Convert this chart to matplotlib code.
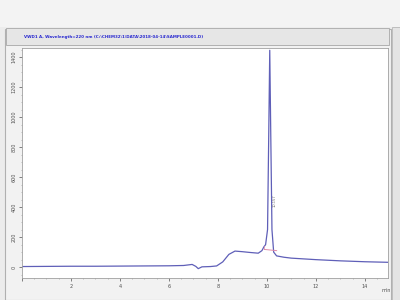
import matplotlib
matplotlib.use('Agg')
import matplotlib.pyplot as plt
from matplotlib.patches import Rectangle

# chromatogram trace (min, mAU)
time_min = [0, 1, 2, 3, 4, 5, 6, 6.6, 6.8, 6.95, 7.1, 7.2, 7.35, 7.7, 7.95, 8.2, 8.45, 8.7,
            9.0, 9.3, 9.65, 9.8, 9.88, 9.95, 10.03, 10.08, 10.12, 10.16, 10.21, 10.28,
            10.4, 10.7, 11, 12, 13, 14, 15]
signal = [4, 5, 6, 6, 7, 8, 9, 11, 15, 18, 5, -10, 2, 4, 8, 35, 85, 107,
          103, 98, 93, 110, 135, 150, 250, 900, 1445, 900, 250, 100,
          75, 66, 60, 50, 42, 36, 32]

x_ticks = [0, 2, 4, 6, 8, 10, 12, 14]
x_labels = ['', '2', '4', '6', '8', '10', '12', '14']
y_ticks = [0, 200, 400, 600, 800, 1000, 1200, 1400]

peak_rt = 10.157
title = 'VWD1 A, Wavelength=220 nm (C:\\CHEM32\\1\\DATA\\2018-04-14\\SAMPLE0001.D)'

fig = plt.figure(figsize=(4, 3), dpi=100)
fig.patch.set_facecolor('#ececec')

# window chrome drawn on a background axes
bg = fig.add_axes([0, 0, 1, 1], zorder=-1)
bg.set_xlim(0, 1)
bg.set_ylim(0, 1)
bg.axis('off')
bg.add_patch(Rectangle((0, 0.91), 1, 0.09, facecolor='#f3f3f3', edgecolor='none'))
bg.add_patch(Rectangle((0.012, 0.0), 0.965, 0.905, facecolor='#f2f2f2',
                       edgecolor='#b0b0b0', lw=0.8))
bg.add_patch(Rectangle((0.015, 0.85), 0.957, 0.055, facecolor='#e6e6e6',
                       edgecolor='#a8a8a8', lw=0.6))
bg.add_patch(Rectangle((0.98, 0.0), 0.02, 0.91, facecolor='#e4e4e4',
                       edgecolor='#b8b8b8', lw=0.6))
bg.text(0.06, 0.877, title, color='#2a2ad0', fontsize=2.9, fontweight='bold',
        va='center', ha='left')
bg.text(0.965, 0.033, 'min', fontsize=3.5, color='#505050', ha='center', va='center')

ax = fig.add_axes([0.055, 0.073, 0.915, 0.767])
ax.set_facecolor('white')
ax.plot(time_min, signal, color='#5f5fb8', lw=0.9)

# integration baseline around the main peak
ax.plot([9.9, 10.4], [118, 110], color='#e08aa8', lw=0.7)
ax.plot([9.9, 9.9], [118, 140], color='#e08aa8', lw=0.5)
ax.text(peak_rt + 0.1, 400, '%.3f' % peak_rt, rotation=90, fontsize=2.6,
        color='#707070', ha='left', va='bottom')

ax.set_xlim(0, 14.95)
ax.set_ylim(-73, 1460)
ax.set_xticks(x_ticks)
ax.set_xticklabels(x_labels)
ax.set_yticks(y_ticks)
ax.set_yticklabels([str(v) for v in y_ticks], rotation=90, va='center')
ax.tick_params(labelsize=3.5, length=2, width=0.5, colors='#505050', pad=2)
ax.minorticks_on()
ax.tick_params(which='minor', length=1, width=0.4, colors='#909090')
for s in ax.spines.values():
    s.set_color('#a0a0a0')
    s.set_linewidth(0.6)

plt.savefig('out.png', dpi=100, facecolor=fig.get_facecolor())
